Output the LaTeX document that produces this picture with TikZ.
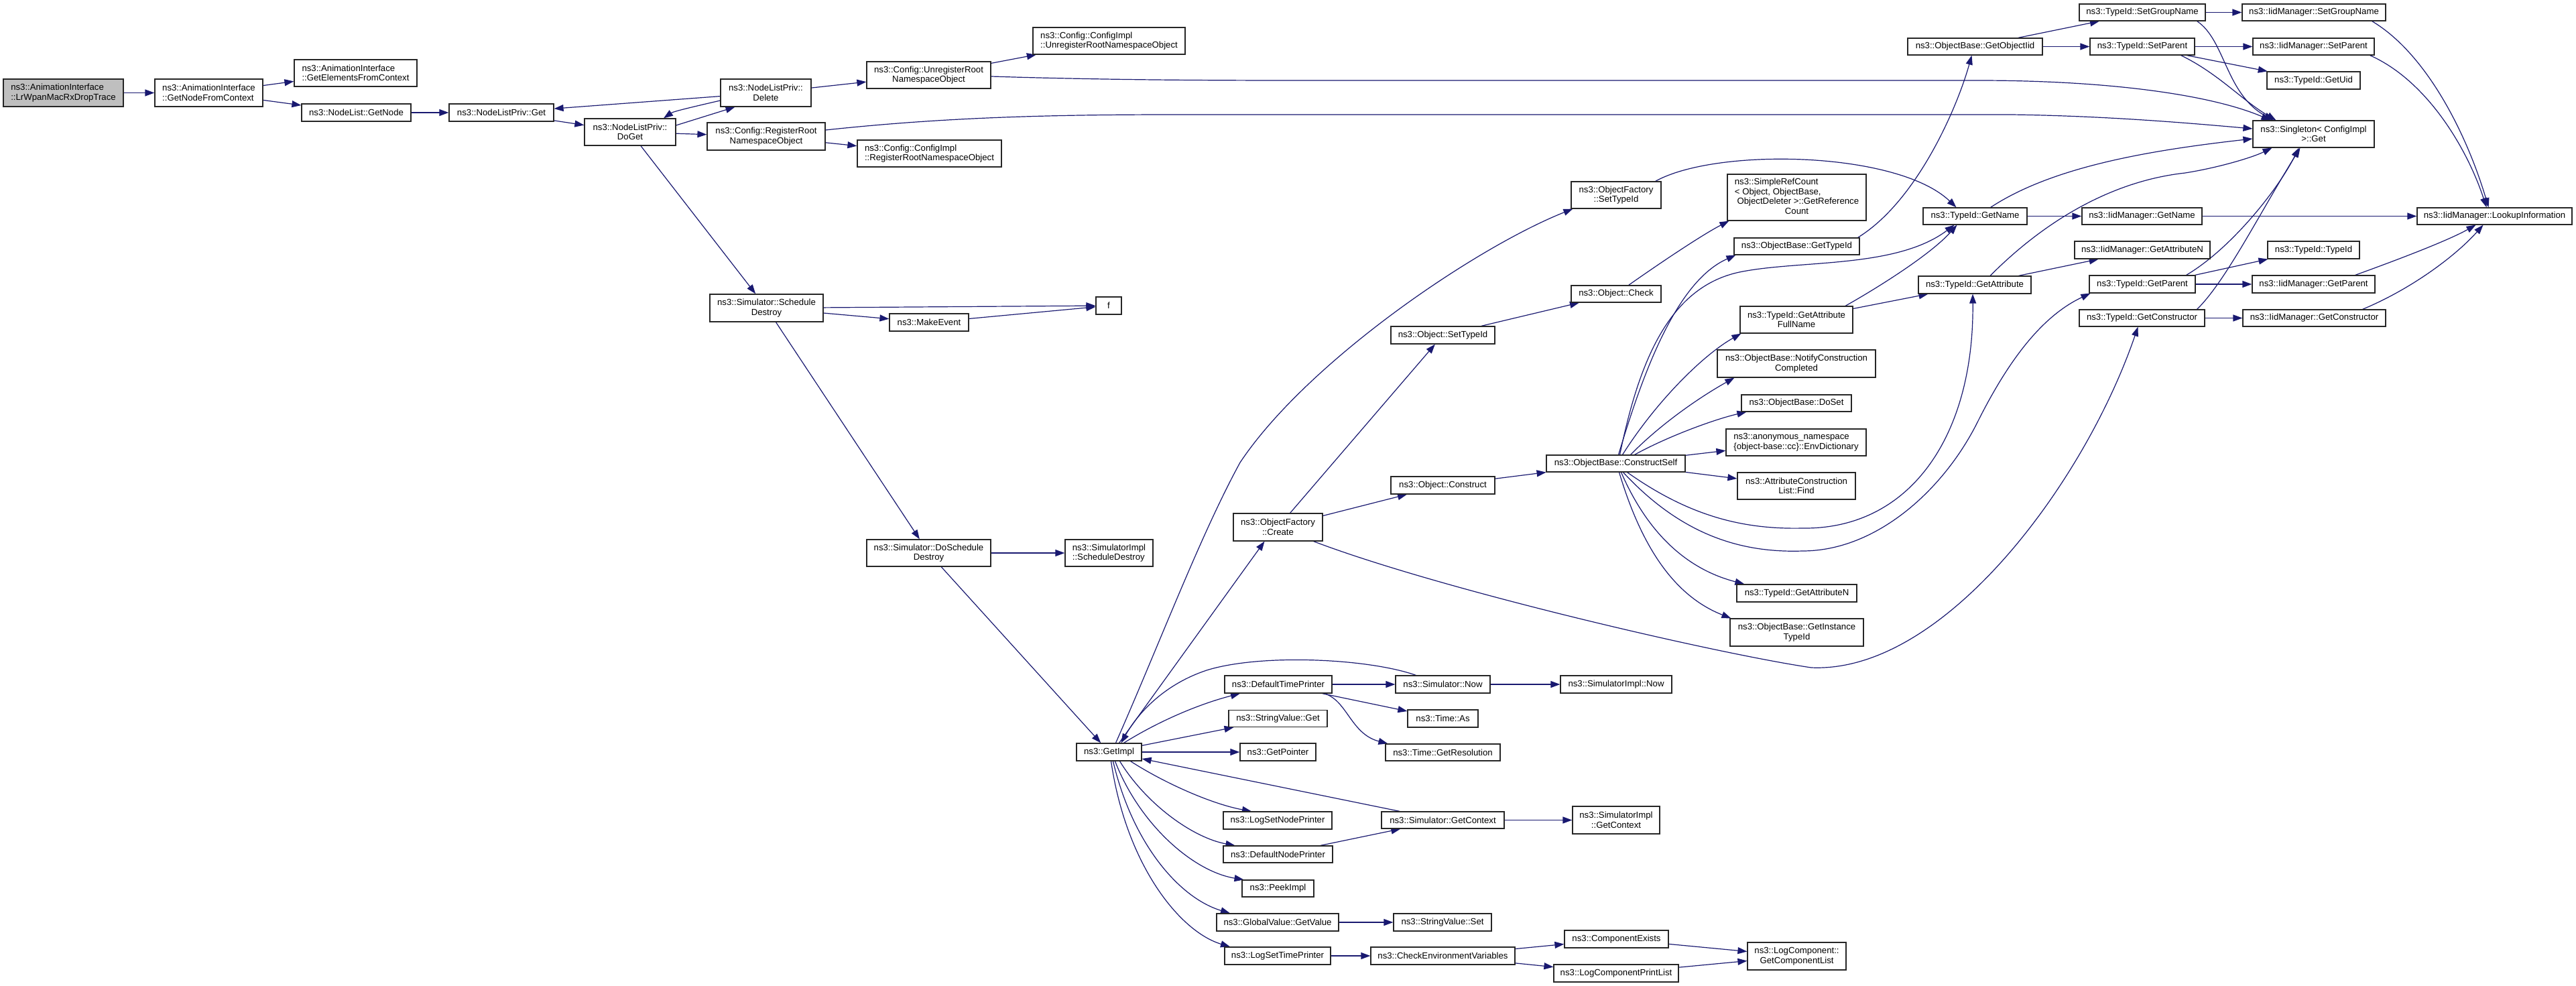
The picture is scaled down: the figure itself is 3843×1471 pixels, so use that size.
\documentclass[tikz,border=0pt]{standalone}
\usepackage{fontspec}
\setmainfont{Liberation Sans}
\usetikzlibrary{arrows.meta}
\definecolor{edgeblue}{HTML}{191970}
\definecolor{rootgray}{HTML}{BFBFBF}
\definecolor{boxline}{HTML}{262626}
\pgfdeclarelayer{bg}
\pgfsetlayers{bg,main}
\begin{document}
\begin{tikzpicture}[x=1pt,y=-1pt,
  box/.style={draw=boxline, line width=1.2pt, fill=white, inner sep=0pt, align=center,
    font=\fontsize{13.2}{14.5}\selectfont, text=black},
  sz/.style 2 args={minimum width=#1pt, minimum height=#2pt},
  edge/.style={draw=edgeblue, line width=1.2pt, -{Triangle[length=14pt,width=10pt]}}]
\useasboundingbox (0,0) rectangle (3843,1471);
% ---------- nodes ----------
\node[box, sz={179}{41}, fill=rootgray, align=left] (root) at (94.5,138.5) {ns3::AnimationInterface\\::LrWpanMacRxDropTrace};
\node[box, sz={161}{41}, align=left] (gnfc) at (311.5,138.5) {ns3::AnimationInterface\\::GetNodeFromContext};
\node[box, sz={183}{40}, align=left] (gefc) at (530.5,109) {ns3::AnimationInterface\\::GetElementsFromContext};
\node[box, sz={163}{26}] (getnode) at (531.5,168) {ns3::NodeList::GetNode};
\node[box, sz={156}{26}] (nlpget) at (748,168) {ns3::NodeListPriv::Get};
\node[box, sz={136}{40}] (doget) at (940,197) {ns3::NodeListPriv::\\DoGet};
\node[box, sz={135}{41}] (delete) at (1142.5,138.5) {ns3::NodeListPriv::\\Delete};
\node[box, sz={185}{40}] (unreg) at (1385.5,112) {ns3::Config::UnregisterRoot\\NamespaceObject};
\node[box, sz={227}{40}, align=left] (ciunreg) at (1654.5,61) {ns3::Config::ConfigImpl\\::UnregisterRootNamespaceObject};
\node[box, sz={176}{41}] (reg) at (1143,203.5) {ns3::Config::RegisterRoot\\NamespaceObject};
\node[box, sz={215}{40}, align=left] (cireg) at (1386.5,229) {ns3::Config::ConfigImpl\\::RegisterRootNamespaceObject};
\node[box, sz={169}{41}] (schedd) at (1143.5,459.5) {ns3::Simulator::Schedule\\Destroy};
\node[box, sz={118}{26}] (makeev) at (1386,481) {ns3::MakeEvent};
\node[box, sz={38}{26}] (f) at (1654,456) {f};
\node[box, sz={185}{40}] (doschedd) at (1385.5,825) {ns3::Simulator::DoSchedule\\Destroy};
\node[box, sz={131}{40}, align=left] (sisched) at (1654.5,825) {ns3::SimulatorImpl\\::ScheduleDestroy};
\node[box, sz={133}{41}] (create) at (1906.5,786.5) {ns3::ObjectFactory\\::Create};
\node[box, sz={97}{26}] (getimpl) at (1654.5,1122) {ns3::GetImpl};
\node[box, sz={160}{26}] (dtp) at (1907,1021) {ns3::DefaultTimePrinter};
\node[box, sz={147}{25}] (svget) at (1906.5,1072) {ns3::StringValue::Get};
\node[box, sz={113}{26}] (getptr) at (1906.5,1122) {ns3::GetPointer};
\node[box, sz={162}{26}] (lsnp) at (1906,1224) {ns3::LogSetNodePrinter};
\node[box, sz={163}{25}] (dnp) at (1906.5,1274.5) {ns3::DefaultNodePrinter};
\node[box, sz={107}{25}] (peek) at (1906.5,1325.5) {ns3::PeekImpl};
\node[box, sz={182}{26}] (gvget) at (1906,1376) {ns3::GlobalValue::GetValue};
\node[box, sz={158}{26}] (lstp) at (1906,1426) {ns3::LogSetTimePrinter};
\node[box, sz={134}{40}] (ofstid) at (2411,291) {ns3::ObjectFactory\\::SetTypeId};
\node[box, sz={155}{26}] (osettid) at (2152.5,500) {ns3::Object::SetTypeId};
\node[box, sz={134}{25}] (ocheck) at (2411,438.5) {ns3::Object::Check};
\node[box, sz={155}{26}] (construct) at (2152.5,724) {ns3::Object::Construct};
\node[box, sz={207}{25}] (cself) at (2410.5,691.5) {ns3::ObjectBase::ConstructSelf};
\node[box, sz={141}{26}] (simnow) at (2152.5,1021) {ns3::Simulator::Now};
\node[box, sz={166}{26}] (sinow) at (2411,1021) {ns3::SimulatorImpl::Now};
\node[box, sz={105}{26}] (timeas) at (2152.5,1072) {ns3::Time::As};
\node[box, sz={171}{25}] (getres) at (2152.5,1122.5) {ns3::Time::GetResolution};
\node[box, sz={183}{25}] (simctx) at (2152.5,1223.5) {ns3::Simulator::GetContext};
\node[box, sz={130}{41}] (sictx) at (2411,1223.5) {ns3::SimulatorImpl\\::GetContext};
\node[box, sz={146}{26}] (svset) at (2152,1376) {ns3::StringValue::Set};
\node[box, sz={215}{26}] (checkenv) at (2152.5,1426) {ns3::CheckEnvironmentVariables};
\node[box, sz={155}{26}] (compex) at (2411.5,1401) {ns3::ComponentExists};
\node[box, sz={186}{26}] (printlist) at (2411,1452) {ns3::LogComponentPrintList};
\node[box, sz={147}{41}] (complist) at (2680.5,1426.5) {ns3::LogComponent::\\GetComponentList};
\node[box, sz={207}{69}] (src) at (2680.5,294.5) {\begin{tabular}{@{}l@{}}ns3::SimpleRefCount\\< Object, ObjectBase,\\\ ObjectDeleter >::GetReference\\\multicolumn{1}{@{}c@{}}{Count}\end{tabular}};
\node[box, sz={187}{25}] (obgettid) at (2680.5,367.5) {ns3::ObjectBase::GetTypeId};
\node[box, sz={168}{40}] (gafn) at (2680,477) {ns3::TypeId::GetAttribute\\FullName};
\node[box, sz={236}{41}] (notify) at (2680,542.5) {ns3::ObjectBase::NotifyConstruction\\Completed};
\node[box, sz={164}{25}] (doset) at (2680,601.5) {ns3::ObjectBase::DoSet};
\node[box, sz={209}{40}, align=left] (anon) at (2679.5,660) {ns3::anonymous\_namespace\\\{object-base::cc\}::EnvDictionary};
\node[box, sz={176}{40}] (find) at (2680,725) {ns3::AttributeConstruction\\List::Find};
\node[box, sz={179}{26}] (gattrn) at (2680.5,885) {ns3::TypeId::GetAttributeN};
\node[box, sz={199}{41}] (ginst) at (2680.5,943.5) {ns3::ObjectBase::GetInstance\\TypeId};
\node[box, sz={201}{25}] (getoiid) at (2946.5,69.5) {ns3::ObjectBase::GetObjectIid};
\node[box, sz={155}{25}] (tigetname) at (2946.5,322.5) {ns3::TypeId::GetName};
\node[box, sz={168}{26}] (getattr) at (2946,425) {ns3::TypeId::GetAttribute};
\node[box, sz={188}{25}] (setgroup) at (3196,18.5) {ns3::TypeId::SetGroupName};
\node[box, sz={156}{25}] (tisetpar) at (3196,69.5) {ns3::TypeId::SetParent};
\node[box, sz={179}{25}] (imgetname) at (3195.5,322.5) {ns3::IidManager::GetName};
\node[box, sz={202}{26}] (imgetattrn) at (3196,373) {ns3::IidManager::GetAttributeN};
\node[box, sz={158}{26}] (tigetpar) at (3196,424) {ns3::TypeId::GetParent};
\node[box, sz={187}{25}] (tigetctor) at (3195.5,474.5) {ns3::TypeId::GetConstructor};
\node[box, sz={214}{25}] (imsetgroup) at (3452,18.5) {ns3::IidManager::SetGroupName};
\node[box, sz={181}{25}] (imsetpar) at (3451.5,69.5) {ns3::IidManager::SetParent};
\node[box, sz={139}{26}] (getuid) at (3451.5,120) {ns3::TypeId::GetUid};
\node[box, sz={181}{40}] (sing) at (3451.5,200) {ns3::Singleton< ConfigImpl\\>::Get};
\node[box, sz={137}{26}] (titypeid) at (3451.5,373) {ns3::TypeId::TypeId};
\node[box, sz={183}{26}] (imgetpar) at (3451.5,424) {ns3::IidManager::GetParent};
\node[box, sz={213}{25}] (imgetctor) at (3452.5,474.5) {ns3::IidManager::GetConstructor};
\node[box, sz={231}{25}] (lookup) at (3721.5,322.5) {ns3::IidManager::LookupInformation};
% ---------- edges ----------
\begin{pgfonlayer}{bg}
\draw[edge] (root) -- (gnfc);
\draw[edge] (gnfc) -- (gefc);
\draw[edge] (gnfc) -- (getnode);
\draw[edge] (getnode) -- (nlpget);
\draw[edge] (nlpget) -- (doget);
\draw[edge] (delete) -- (nlpget);
\draw[edge] ([yshift=-11.5pt]delete.west) .. controls (1040,158) and (1005,166) .. ([xshift=50pt]doget.north);
\draw[edge] ([yshift=10pt]doget.east) -- ([xshift=-46pt]delete.south);
\draw[edge] (doget) -- (reg);
\draw[edge] (delete) -- (unreg);
\draw[edge] (unreg) -- (ciunreg);
\draw[edge] ([yshift=-2pt]unreg.east) .. controls (1700,121) and (1900,120) .. (2100,120) -- (2950,120) .. controls (3150,120) and (3300,142) .. ([xshift=-64pt]sing.north);
\draw[edge] (reg) -- (cireg);
\draw[edge] ([yshift=9.5pt]reg.east) .. controls (1400,176) and (1550,171) .. (1750,171) -- (3000,171) .. controls (3150,173) and (3280,185) .. ([yshift=8pt]sing.west);
\draw[edge] (doget) -- (schedd);
\draw[edge] (schedd) -- (f);
\draw[edge] (schedd) -- (makeev);
\draw[edge] (makeev) -- (f);
\draw[edge] (schedd) -- (doschedd);
\draw[edge] (doschedd) -- (sisched);
\draw[edge] (doschedd) -- (getimpl);
\draw[edge] ([xshift=15pt]getimpl.north) -- ([xshift=-20pt]create.south);
\draw[edge] ([xshift=10pt]getimpl.north) .. controls (1730,960) and (1790,800) .. (1850,690) .. controls (1950,540) and (2200,370) .. ([xshift=3pt]ofstid.south west);
\draw[edge] (create) -- (osettid);
\draw[edge] (create) -- (construct);
\draw[edge] ([xshift=53pt]create.south) .. controls (2150,880) and (2560,975) .. (2702,996) .. controls (2900,1005) and (3110,720) .. ([xshift=-6pt]tigetctor.south);
\draw[edge] (osettid) -- (ocheck);
\draw[edge] (ocheck) .. controls (2480,390) and (2540,350) .. ([xshift=3pt]src.south west);
\draw[edge] ([xshift=-9pt]ofstid.north east) .. controls (2560,220) and (2830,225) .. ([xshift=-28pt]tigetname.north);
\draw[edge] (construct) -- (cself);
\draw[edge] ([xshift=4pt]cself.north) .. controls (2450,560) and (2500,420) .. ([xshift=3pt]obgettid.south west);
\draw[edge] ([xshift=6pt]cself.north) .. controls (2445,540) and (2490,425) .. (2600,405) .. controls (2690,388) and (2830,400) .. ([xshift=-31pt]tigetname.south);
\draw[edge] ([xshift=73pt]gafn.north) .. controls (2800,430) and (2880,380) .. ([xshift=-27pt]tigetname.south);
\draw[edge] (gafn) -- (getattr);
\draw[edge] ([xshift=10pt]cself.north) .. controls (2470,600) and (2540,530) .. ([xshift=2pt]gafn.south west);
\draw[edge] ([xshift=22pt]cself.north) .. controls (2480,630) and (2540,590) .. ([xshift=26pt]notify.south west);
\draw[edge] ([xshift=28pt]cself.north) .. controls (2490,650) and (2560,625) .. ([xshift=8pt]doset.south west);
\draw[edge] (cself) -- (anon);
\draw[edge] (cself) -- (find);
\draw[edge] ([xshift=17pt]cself.south) .. controls (2520,770) and (2600,790) .. (2689,788) .. controls (2850,790) and (2945,650) .. ([xshift=-3pt]getattr.south);
\draw[edge] ([xshift=11pt]cself.south) .. controls (2510,800) and (2600,825) .. (2689,822) .. controls (2800,822) and (2900,730) .. (2950,630) .. controls (3000,530) and (3050,470) .. ([xshift=2pt]tigetpar.south west);
\draw[edge] ([xshift=8pt]cself.south) .. controls (2460,800) and (2520,850) .. ([xshift=12pt]gattrn.north west);
\draw[edge] ([xshift=5pt]cself.south) .. controls (2450,820) and (2500,890) .. ([xshift=2pt]ginst.north west);
\draw[edge] ([xshift=-3pt]obgettid.north east) .. controls (2860,300) and (2920,160) .. ([xshift=-5pt]getoiid.south);
\draw[edge] (getoiid) -- (setgroup);
\draw[edge] (getoiid) -- (tisetpar);
\draw[edge] (setgroup) -- (imsetgroup);
\draw[edge] ([xshift=-13pt]setgroup.south east) .. controls (3320,60) and (3320,140) .. ([xshift=-60pt]sing.north);
\draw[edge] (tisetpar) -- (imsetpar);
\draw[edge] (tisetpar) -- (getuid);
\draw[edge] ([xshift=-21pt]tisetpar.south east) .. controls (3310,110) and (3345,150) .. ([xshift=-56pt]sing.north);
\draw[edge] ([xshift=-21pt]imsetgroup.south east) .. controls (3620,80) and (3680,200) .. ([xshift=-9pt]lookup.north);
\draw[edge] ([xshift=-7pt]imsetpar.south east) .. controls (3620,120) and (3680,220) .. ([xshift=-12pt]lookup.north);
\draw[edge] (tigetname) -- (imgetname);
\draw[edge] ([xshift=-55pt]tigetname.north east) .. controls (3060,250) and (3200,225) .. ([yshift=-7pt]sing.west);
\draw[edge] (imgetname) -- (lookup);
\draw[edge] (getattr) -- (imgetattrn);
\draw[edge] ([xshift=23pt]getattr.north) .. controls (3050,330) and (3150,270) .. (3260,258) .. controls (3310,250) and (3360,235) .. ([xshift=-62pt]sing.south);
\draw[edge] (tigetpar) -- (imgetpar);
\draw[edge] ([xshift=-14pt]tigetpar.north east) .. controls (3330,370) and (3400,280) .. ([xshift=-22pt]sing.south);
\draw[edge] ([xshift=-1pt]tigetpar.north east) -- ([xshift=1pt]titypeid.south west);
\draw[edge] (tigetctor) -- (imgetctor);
\draw[edge] ([xshift=-12pt]tigetctor.north east) .. controls (3320,420) and (3370,320) .. ([xshift=-20pt]sing.south);
\draw[edge] ([xshift=-30pt]imgetpar.north east) .. controls (3570,390) and (3650,360) .. ([xshift=-28pt]lookup.south);
\draw[edge] ([xshift=-35pt]imgetctor.north east) .. controls (3600,430) and (3665,380) .. ([xshift=-17pt]lookup.south);
% GetImpl fan
\draw[edge] ([xshift=22pt]getimpl.north) .. controls (1730,1075) and (1790,1050) .. ([xshift=-57pt]dtp.south);
\draw[edge] (getimpl) -- (svget);
\draw[edge] (getimpl) -- (getptr);
\draw[edge] ([xshift=32pt]getimpl.south) .. controls (1740,1170) and (1810,1200) .. ([xshift=-39pt]lsnp.north);
\draw[edge] ([xshift=16pt]getimpl.south) .. controls (1710,1200) and (1780,1250) .. ([xshift=-64pt]dnp.north);
\draw[edge] ([xshift=9pt]getimpl.south) .. controls (1700,1230) and (1780,1300) .. ([xshift=-51pt]peek.north);
\draw[edge] ([xshift=6pt]getimpl.south) .. controls (1690,1260) and (1760,1340) .. ([xshift=-71pt]gvget.north);
\draw[edge] ([xshift=3pt]getimpl.south) .. controls (1680,1290) and (1760,1390) .. ([xshift=-71pt]lstp.north);
\draw[edge] ([xshift=-40pt]simnow.north) .. controls (2040,982) and (1880,975) .. (1800,1000) .. controls (1740,1020) and (1700,1060) .. ([xshift=18pt]getimpl.north);
\draw[edge] (dtp) -- (simnow);
\draw[edge] (dtp) -- (timeas);
\draw[edge] ([xshift=-12pt]dtp.south east) .. controls (2010,1045) and (2015,1095) .. ([xshift=4pt]getres.north west);
\draw[edge] (simnow) -- (sinow);
\draw[edge] (dnp) -- (simctx);
\draw[edge] (simctx) -- (getimpl);
\draw[edge] (simctx) -- (sictx);
\draw[edge] (gvget) -- (svset);
\draw[edge] (lstp) -- (checkenv);
\draw[edge] (checkenv) -- (compex);
\draw[edge] (checkenv) -- (printlist);
\draw[edge] (compex) -- (complist);
\draw[edge] (printlist) -- (complist);
\end{pgfonlayer}
\end{tikzpicture}
\end{document}
